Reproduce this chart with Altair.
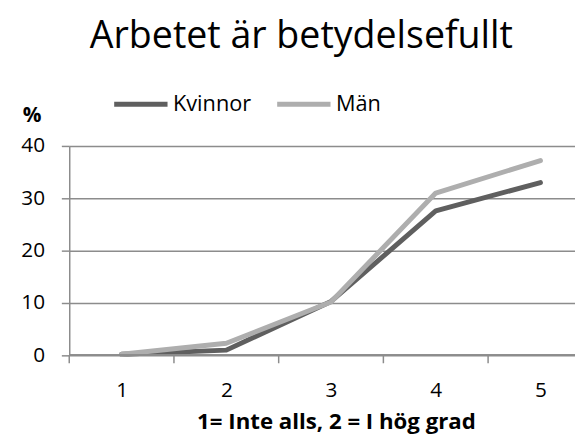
import altair as alt
import pandas as pd

categories = [1, 2, 3, 4, 5]
kvinnor = [0.2, 1.0, 10.3, 27.6, 33.0]
man = [0.2, 2.3, 10.2, 31.0, 37.2]
series_names = ["Kvinnor", "Män"]
boundaries = [0.5, 1.5, 2.5, 3.5, 4.5]

rows = []
for name, vals in zip(series_names, [kvinnor, man]):
    for c, v in zip(categories, vals):
        rows.append({"kat": c, "varde": v, "serie": name})
df = pd.DataFrame(rows)
bdf = pd.DataFrame({"b": boundaries})

FONT = "Open Sans"
W, H = 512, 212
GRID = "#8c8c8c"

xscale = alt.Scale(domain=[0.5, 5.33], nice=False, zero=False)

lines = alt.Chart(df).mark_line(strokeWidth=5, strokeCap="round", strokeJoin="round").encode(
    x=alt.X("kat:Q", scale=xscale,
            axis=alt.Axis(values=categories, format="d", ticks=False, grid=False, domain=False,
                          labelFontSize=21, labelColor="black", labelPadding=42,
                          labelBaseline="alphabetic",
                          title="1= Inte alls, 2 = I hög grad", titleFontSize=22.5,
                          titleFontWeight="bold", titleColor="black",
                          titleY=74, titleBaseline="alphabetic", titleX=270,
                          titleAlign="center")),
    y=alt.Y("varde:Q", scale=alt.Scale(domain=[0, 40], nice=False),
            axis=alt.Axis(values=[0, 10, 20, 30, 40], grid=True, gridColor=GRID,
                          gridWidth=1.5, domain=True, domainColor=GRID, domainWidth=1.5,
                          tickColor=GRID, tickWidth=1.5, tickSize=8,
                          labelFontSize=21, labelColor="black", labelPadding=17,
                          title="%", titleAngle=0, titleFontSize=21, titleFontWeight="bold",
                          titleColor="black", titleX=-38, titleY=-31,
                          titleAlign="center", titleBaseline="middle")),
    color=alt.Color("serie:N",
                    scale=alt.Scale(domain=series_names, range=["#5f5f5f", "#aeaeae"]),
                    legend=alt.Legend(orient="none", direction="horizontal",
                                      legendX=43, legendY=-72, title=None,
                                      symbolType="stroke", symbolSize=2916,
                                      symbolStrokeWidth=5, labelFontSize=22,
                                      labelColor="black", labelOffset=3,
                                      columnPadding=15, labelFont=FONT)),
    order=alt.Order("serie:N", sort="ascending"),
)

ticks = alt.Chart(bdf).mark_rule(color=GRID, strokeWidth=1.5).encode(
    x=alt.X("b:Q", scale=xscale),
    y=alt.value(H),
    y2=alt.value(H + 8),
)

baseline = alt.Chart(bdf).mark_rule(color=GRID, strokeWidth=1.5).encode(
    x=alt.value(0), x2=alt.value(W), y=alt.value(H)
)

chart = alt.layer(ticks, lines, baseline).properties(
    width=W, height=H,
    autosize=alt.AutoSizeParams(type="none"),
    padding={"left": 62, "top": 137, "right": 0, "bottom": 79},
    title=alt.TitleParams("Arbetet är betydelsefullt", fontSize=38, font=FONT,
                          fontWeight="normal", color="black", anchor="middle",
                          frame="group", dx=-21, dy=11, offset=0, baseline="alphabetic"),
).configure_view(stroke=None).configure_axis(labelFont=FONT, titleFont=FONT)

chart.save("out.html", embed_options={"renderer": "svg", "actions": False})
